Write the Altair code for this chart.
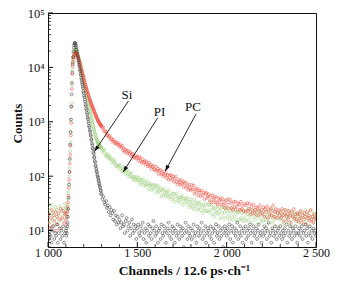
import altair as alt
import pandas as pd

# ---------------- data ----------------
ch_pre = list(range(1000, 1100, 5))    # 20 channels
ch_fast = list(range(1100, 1300, 2))   # 100 channels
ch_tail = list(range(1300, 2501, 5))   # 241 channels

si_pre = [9, 7, 11, 8, 6, 10, 12, 7, 9, 8, 13, 6, 9, 11, 7, 10, 8, 12, 6, 9]
pi_pre = [18, 25, 14, 21, 30, 16, 22, 19, 27, 13, 24, 17, 20, 28, 15, 23, 18, 26, 21, 31]
pc_pre = [14, 20, 11, 17, 24, 12, 19, 15, 22, 10, 18, 13, 21, 16, 25, 11, 17, 23, 14, 20]

si_fast = [
    10, 8, 11, 9, 12, 14, 18, 25, 40, 70,
    120, 210, 380, 650, 1100, 1900, 3200, 5200, 8000, 11500,
    15500, 19500, 23000, 25500, 27500, 28500, 28000, 27000, 25500, 23500,
    21500, 19600, 17900, 16100, 14900, 13400, 12400, 11100, 10300, 9200,
    8600, 7700, 7200, 6400, 5900, 5300, 4950, 4450, 4150, 3650,
    3400, 3050, 2850, 2550, 2350, 2080, 1950, 1750, 1640, 1460,
    1370, 1210, 1130, 1010, 940, 840, 790, 700, 660, 580,
    550, 480, 460, 400, 375, 330, 315, 275, 260, 228,
    218, 190, 180, 158, 150, 136, 124, 118, 106, 100,
    94, 86, 82, 74, 71, 64, 62, 55, 54, 48,
]
pi_fast = [
    20, 26, 17, 23, 25, 30, 38, 50, 70, 100,
    140, 200, 290, 420, 650, 1100, 2200, 4800, 9000, 12500,
    14500, 16000, 17500, 18800, 19800, 20600, 21200, 21600, 21800, 21700,
    21300, 20100, 18900, 17700, 16900, 15900, 14900, 13800, 13000, 12200,
    11500, 10700, 9900, 9300, 8600, 8000, 7500, 6900, 6500, 6000,
    5700, 5300, 4900, 4600, 4300, 4000, 3700, 3450, 3200, 3000,
    2800, 2600, 2400, 2250, 2100, 1950, 1800, 1650, 1550, 1450,
    1350, 1250, 1170, 1080, 1010, 950, 880, 820, 770, 720,
    680, 640, 590, 570, 520, 500, 470, 460, 430, 425,
    405, 400, 380, 380, 360, 365, 345, 345, 330, 330,
]
pc_fast = [
    16, 21, 13, 18, 22, 27, 33, 44, 60, 85,
    120, 170, 250, 360, 560, 950, 1900, 4000, 7500, 10500,
    12500, 14000, 15200, 16200, 17000, 17600, 18100, 18400, 18500, 18500,
    18500, 17700, 17000, 16300, 15600, 15000, 14200, 13500, 12800, 12100,
    11500, 10800, 10200, 9600, 9000, 8500, 8000, 7500, 7100, 6700,
    6300, 5950, 5600, 5250, 4950, 4700, 4450, 4200, 4000, 3800,
    3600, 3430, 3260, 3100, 2950, 2800, 2680, 2560, 2450, 2350,
    2250, 2160, 2080, 2000, 1920, 1850, 1780, 1710, 1640, 1570,
    1520, 1430, 1410, 1330, 1310, 1240, 1220, 1150, 1140, 1080,
    1070, 1010, 1010, 950, 955, 905, 910, 865, 870, 825,
]

si_tail = [
    46, 38, 42, 33, 30, 35, 26, 29, 22, 27, 19, 24, 21, 16, 23, 15, 19, 13, 18, 14,
    16, 11, 14, 19, 12, 13, 9, 15, 17, 10, 12, 14, 8, 11, 16, 9, 13, 10, 12, 7,
    11, 13, 9, 8, 12, 10, 14, 7, 9, 11, 6, 10, 13, 8, 12, 9, 7, 11, 15, 10,
    8, 12, 9, 6, 10, 11, 7, 13, 9, 8, 12, 10, 6, 9, 11, 14, 8, 10, 7, 12,
    9, 11, 6, 10, 8, 13, 9, 7, 12, 10, 8, 11, 5, 9, 14, 10, 7, 12, 9, 8,
    11, 7, 10, 13, 8, 9, 6, 12, 10, 8, 11, 9, 14, 7, 10, 8, 12, 6, 9, 11,
    10, 8, 12, 7, 9, 11, 6, 10, 13, 8, 9, 12, 7, 10, 8, 11, 5, 9, 12, 10,
    8, 11, 9, 13, 7, 10, 12, 6, 9, 11, 8, 10, 14, 7, 9, 12, 8, 10, 6, 11,
    9, 12, 7, 10, 8, 11, 13, 9, 6, 10, 12, 8, 9, 11, 7, 10, 13, 8, 9, 6,
    10, 8, 12, 9, 11, 7, 10, 14, 8, 9, 6, 11, 10, 8, 12, 9, 7, 10, 11, 8,
    12, 9, 7, 10, 8, 11, 9, 13, 6, 10, 8, 12, 9, 7, 11, 10, 8, 12, 9, 6,
    9, 11, 8, 10, 12, 7, 9, 10, 13, 8, 11, 6, 9, 12, 8, 10, 7, 11, 9, 10,
    8,
]
pi_tail = [
    336, 281, 299, 302, 254, 230, 260, 235, 212, 235, 204, 210, 177, 201, 176, 189, 153, 162, 147, 159,
    160, 137, 123, 141, 145, 119, 128, 109, 125, 127, 108, 98, 110, 115, 94, 97, 85, 98, 86, 96,
    82, 95, 85, 71, 87, 77, 89, 68, 78, 67, 81, 68, 74, 58, 68, 72, 56, 67, 60, 70,
    66, 50, 60, 67, 52, 54, 61, 43, 55, 45, 58, 50, 42, 51, 45, 54, 41, 45, 37, 48,
    39, 48, 34, 43, 48, 36, 40, 33, 41, 37, 43, 30, 39, 33, 39, 35, 40, 30, 34, 27,
    37, 29, 32, 25, 37, 28, 32, 24, 32, 27, 33, 24, 29, 21, 30, 26, 23, 31, 23, 29,
    22, 30, 24, 30, 20, 26, 18, 26, 23, 21, 28, 20, 24, 17, 26, 21, 27, 17, 22, 25,
    26, 18, 22, 16, 23, 19, 26, 16, 22, 18, 24, 15, 21, 22, 16, 24, 17, 21, 15, 23,
    17, 23, 15, 20, 25, 16, 19, 22, 14, 21, 18, 24, 16, 20, 13, 22, 19, 17, 23, 15,
    21, 15, 19, 24, 16, 18, 13, 22, 20, 17, 25, 14, 19, 16, 23, 18, 12, 21, 17, 20,
    16, 22, 18, 13, 20, 24, 15, 19, 17, 23, 14, 18, 21, 12, 19, 16, 22, 18, 15, 20,
    19, 14, 22, 17, 16, 21, 13, 18, 24, 15, 20, 17, 12, 19, 23, 16, 18, 14, 21, 17,
    18,
]
pc_tail = [
    853, 757, 784, 665, 667, 656, 559, 576, 529, 551, 480, 494, 432, 469, 435, 401, 426, 388, 413, 376,
    352, 383, 339, 362, 301, 322, 276, 308, 289, 262, 294, 258, 276, 234, 253, 259, 227, 214, 236, 217,
    230, 193, 214, 224, 190, 176, 205, 181, 189, 162, 187, 168, 153, 176, 151, 162, 135, 150, 156, 133,
    127, 149, 127, 137, 110, 126, 130, 109, 115, 100, 123, 105, 113, 93, 105, 86, 105, 91, 104, 86,
    100, 79, 91, 98, 78, 71, 85, 78, 69, 85, 72, 79, 63, 74, 78, 62, 67, 56, 70, 60,
    56, 69, 57, 67, 48, 58, 51, 59, 44, 55, 51, 43, 55, 45, 50, 38, 48, 50, 40, 43,
    47, 35, 42, 33, 45, 37, 40, 33, 42, 33, 30, 40, 35, 37, 30, 39, 30, 34, 26, 36,
    30, 38, 26, 33, 37, 26, 31, 24, 34, 27, 34, 28, 24, 32, 30, 24, 34, 25, 29, 23,
    31, 22, 29, 32, 23, 25, 31, 20, 27, 23, 30, 21, 24, 27, 19, 26, 23, 29, 20, 24,
    21, 27, 18, 25, 22, 28, 17, 24, 20, 26, 19, 23, 29, 18, 22, 25, 17, 21, 24, 19,
    22, 17, 25, 19, 15, 21, 24, 18, 20, 16, 23, 19, 14, 22, 18, 25, 17, 20, 16, 21,
    15, 20, 17, 23, 14, 19, 16, 21, 18, 13, 22, 17, 19, 15, 24, 16, 18, 14, 20, 17,
    16,
]

series_names = ["PI", "PC", "Si"]          # drawing order
series_colors = ["#96cc76", "#ec4a3c", "#3a3a3a"]

# annotations: label text, label position, arrow start, arrow tip, arrow angle (deg)
ann_label = ["Si", "PI", "PC"]
ann_lx = [1442, 1624, 1812]
ann_ly = [3110, 1514, 1870]
ann_sx = [1451, 1614, 1829]
ann_sy = [2430, 1180, 1400]
ann_tx = [1260, 1421, 1656]
ann_ty = [285, 120, 124]
ann_ang = [214, 212.6, 208.3]

x_tick_vals = [1000, 1500, 2000, 2500]
x_tick_labels = ["1 000", "1 500", "2 000", "2 500"]
x_minor = [1100, 1200, 1300, 1400, 1600, 1700, 1800, 1900, 2100, 2200, 2300, 2400]
y_tick_vals = [10, 100, 1000, 10000, 100000]
y_tick_labels = ["10\u00b9", "10\u00b2", "10\u00b3", "10\u2074", "10\u2075"]
y_minor = [5, 6, 7, 8, 9,
           20, 30, 40, 50, 60, 70, 80, 90,
           200, 300, 400, 500, 600, 700, 800, 900,
           2000, 3000, 4000, 5000, 6000, 7000, 8000, 9000,
           20000, 30000, 40000, 50000, 60000, 70000, 80000, 90000]

# ---------------- build table ----------------
def rows(name, chs, vals):
    assert len(chs) == len(vals), (name, len(chs), len(vals))
    return [{"ch": c, "count": v, "series": name} for c, v in zip(chs, vals)]

data = {
    "PI": (pi_pre, pi_fast, pi_tail),
    "PC": (pc_pre, pc_fast, pc_tail),
    "Si": (si_pre, si_fast, si_tail),
}
recs = []
for name in series_names:
    pre, fast, tail = data[name]
    recs += rows(name, ch_pre, pre) + rows(name, ch_fast, fast) + rows(name, ch_tail, tail)
df = pd.DataFrame(recs)
df["idx"] = range(len(df))

ann = pd.DataFrame({"label": ann_label, "ch": ann_lx, "count": ann_ly, "sx": ann_sx,
                    "sy": ann_sy, "tx": ann_tx, "ty": ann_ty, "ang": ann_ang})

W, H = 268, 234
FONT = "Liberation Serif"

xscale = alt.Scale(domain=[1000, 2500], nice=False, zero=False)
yscale = alt.Scale(type="log", domain=[5, 100000], nice=False)


def map_expr(vals, labels):
    expr = "''"
    for v, l in reversed(list(zip(vals, labels))):
        expr = f"datum.value == {v} ? '{l}' : ({expr})"
    return expr


xaxis = alt.Axis(values=x_tick_vals, labelExpr=map_expr(x_tick_vals, x_tick_labels),
                 ticks=False, grid=False, domain=False, labelFlush=False,
                 labelFont=FONT, labelFontSize=12, labelColor="#111", labelPadding=0,
                 title="Channels / 12.6 ps\u00b7ch\u207b\u00b9", titleFont=FONT,
                 titleFontSize=13.5, titleFontWeight="bold", titleColor="#111",
                 titleX=136, titleY=27.5, titleBaseline="alphabetic", titleAlign="center",
                 titleAnchor="middle")
yaxis = alt.Axis(values=y_tick_vals, labelExpr=map_expr(y_tick_vals, y_tick_labels),
                 ticks=False, grid=False, domain=False,
                 labelFont=FONT, labelFontSize=12.5, labelColor="#111", labelPadding=4,
                 labelFlush=False,
                 title="Counts", titleFont=FONT, titleFontSize=13, titleFontWeight="bold",
                 titleColor="#111", titleX=-31, titleY=110, titleAngle=270,
                 titleAlign="center", titleBaseline="middle")

X = alt.X("ch:Q", scale=xscale, axis=xaxis)
Y = alt.Y("count:Q", scale=yscale, axis=yaxis)

points = alt.Chart(df).mark_point(shape="circle", filled=False, size=8, strokeWidth=0.55,
                                  opacity=1, clip=True).encode(
    x=X, y=Y,
    color=alt.Color("series:N", scale=alt.Scale(domain=series_names, range=series_colors),
                    legend=None),
    order=alt.Order("idx:Q"),
)

xmaj = alt.Chart(pd.DataFrame({"ch": x_tick_vals})).mark_rule(color="#111", strokeWidth=1).encode(
    x=X, y=alt.value(H), y2=alt.value(H - 5))
xmin = alt.Chart(pd.DataFrame({"ch": x_minor})).mark_rule(color="#111", strokeWidth=0.8).encode(
    x=X, y=alt.value(H), y2=alt.value(H - 3))
ymaj = alt.Chart(pd.DataFrame({"count": y_tick_vals})).mark_rule(color="#111", strokeWidth=1).encode(
    y=Y, x=alt.value(0), x2=alt.value(5))
ymin = alt.Chart(pd.DataFrame({"count": y_minor})).mark_rule(color="#111", strokeWidth=0.8).encode(
    y=Y, x=alt.value(0), x2=alt.value(3))

lines = alt.Chart(ann).mark_rule(color="#111", strokeWidth=0.9).encode(
    x=alt.X("sx:Q", scale=xscale, axis=xaxis), y=alt.Y("sy:Q", scale=yscale, axis=yaxis),
    x2="tx:Q", y2="ty:Q")
heads = alt.Chart(ann).mark_point(shape="M0,0L-0.7,2L0.7,2Z", filled=True, size=36,
                                  color="#111", opacity=1).encode(
    x=alt.X("tx:Q", scale=xscale, axis=xaxis), y=alt.Y("ty:Q", scale=yscale, axis=yaxis),
    angle=alt.Angle("ang:Q", scale=None))
labels = alt.Chart(ann).mark_text(font=FONT, fontSize=13, color="#111", align="center",
                                  baseline="middle").encode(
    x=X, y=Y, text="label:N")

chart = alt.layer(points, xmaj, xmin, ymaj, ymin, lines, heads, labels).properties(
    width=W, height=H,
    autosize=alt.AutoSizeParams(type="none"),
    padding={"left": 48, "top": 13, "right": 25, "bottom": 38},
    background="white",
).configure_view(stroke="#111", strokeWidth=1)

chart.save("out.html", embed_options={"renderer": "svg", "actions": False})
